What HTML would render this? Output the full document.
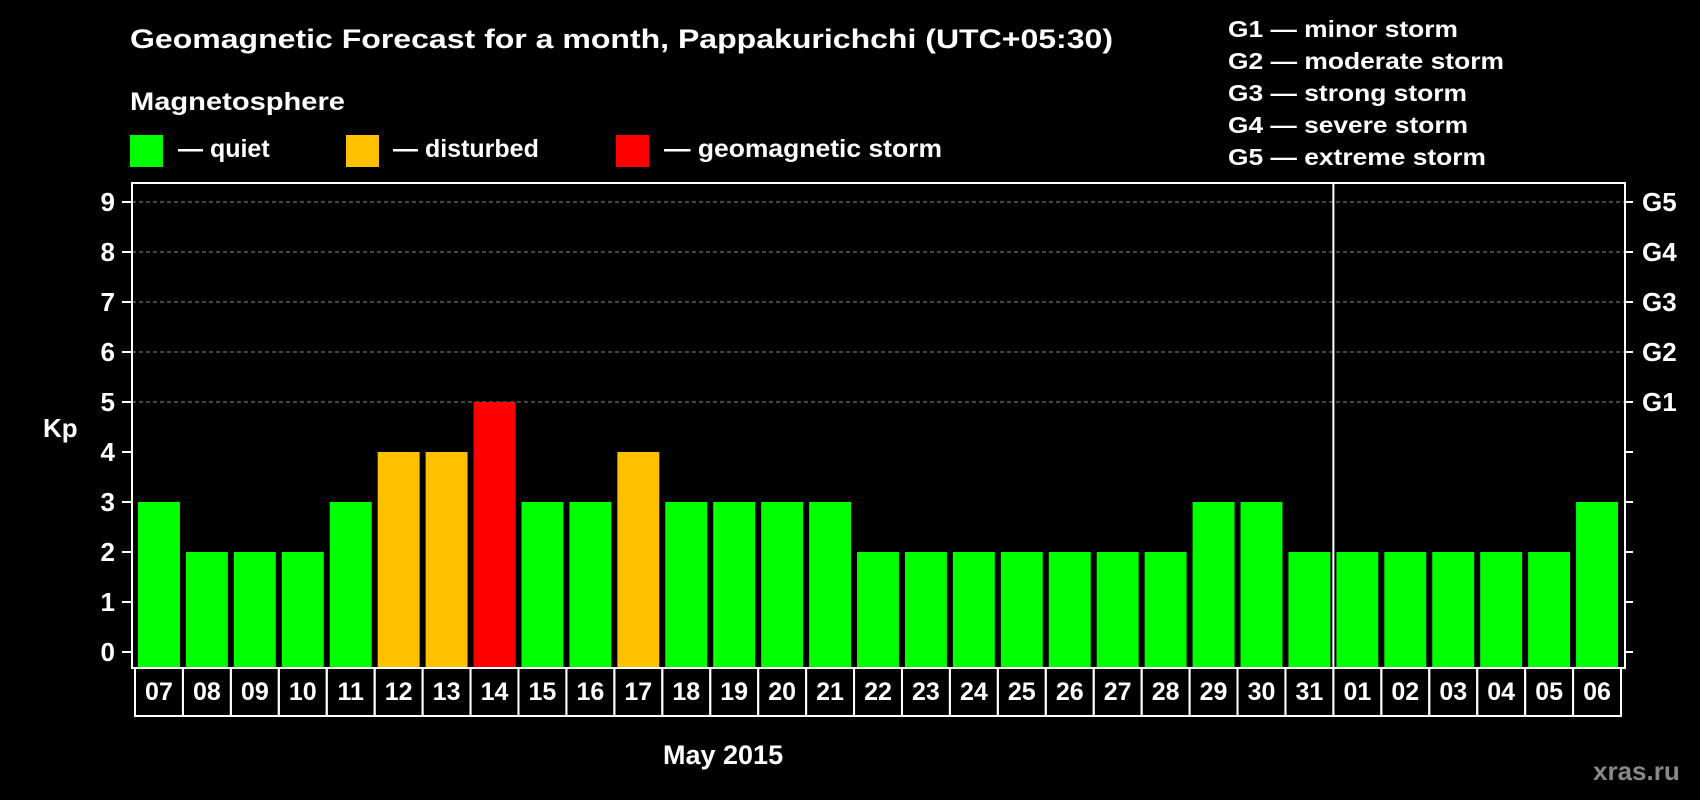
<!DOCTYPE html>
<html><head><meta charset="utf-8"><style>
html,body{margin:0;padding:0;background:#000;width:1700px;height:800px;overflow:hidden}
svg{display:block;font-family:"Liberation Sans",Arial,sans-serif;font-weight:bold}
</style></head><body>
<svg id="chart" width="1700" height="800" viewBox="0 0 1700 800">
<rect width="1700" height="800" fill="#000"/>
<text x="130" y="48" font-size="27" fill="#fff" textLength="983" lengthAdjust="spacingAndGlyphs">Geomagnetic Forecast for a month, Pappakurichchi (UTC+05:30)</text>
<text x="130" y="110" font-size="25" fill="#fff" textLength="215" lengthAdjust="spacingAndGlyphs">Magnetosphere</text>
<g>
<rect x="130" y="135" width="33" height="32" fill="#00ff00"/>
<text x="178" y="157" font-size="25" fill="#fff">— quiet</text></g>
<g>
<rect x="346" y="135" width="33" height="32" fill="#ffc000"/>
<text x="393" y="157" font-size="25" fill="#fff">— disturbed</text></g>
<g>
<rect x="616" y="135" width="33" height="32" fill="#ff0000"/>
<text x="664" y="157" font-size="25" fill="#fff" textLength="278" lengthAdjust="spacingAndGlyphs">— geomagnetic storm</text></g>
<g font-size="23" fill="#fff">
<text x="1228" y="37" textLength="230" lengthAdjust="spacingAndGlyphs">G1 — minor storm</text>
<text x="1228" y="69" textLength="276" lengthAdjust="spacingAndGlyphs">G2 — moderate storm</text>
<text x="1228" y="101" textLength="239" lengthAdjust="spacingAndGlyphs">G3 — strong storm</text>
<text x="1228" y="133" textLength="240" lengthAdjust="spacingAndGlyphs">G4 — severe storm</text>
<text x="1228" y="165" textLength="258" lengthAdjust="spacingAndGlyphs">G5 — extreme storm</text>
</g>
<g id="grid"></g>
<g id="bars"></g>
<g id="axes"></g>
<text x="43" y="437" font-size="26" fill="#fff">Kp</text>
<text x="663" y="764" font-size="27" fill="#fff">May 2015</text>
<text x="1593" y="780" font-size="26" fill="#888">xras.ru</text>
</svg>
<script>
const days = ["07","08","09","10","11","12","13","14","15","16","17","18","19","20","21","22","23","24","25","26","27","28","29","30","31","01","02","03","04","05","06"];
const kpValues = [3,2,2,2,3,4,4,5,3,3,4,3,3,3,3,2,2,2,2,2,2,2,3,3,2,2,2,2,2,2,3];
const yTicks = [0,1,2,3,4,5,6,7,8,9];
const gLabels = ["G1","G2","G3","G4","G5"];
const gLevels = [5,6,7,8,9];
const monthBreakIndex = 25;

const NS = "http://www.w3.org/2000/svg";
const L = 132, R = 1625, T = 183, B = 668;
const pitch = (R - L - 7) / days.length;
function y(v){ return 652 - v * 50; }
function x(i){ return 138 + i * pitch; }
function mk(tag, attrs, parent){ const e = document.createElementNS(NS, tag); for (const k in attrs) e.setAttribute(k, attrs[k]); parent.appendChild(e); return e; }
const grid = document.getElementById('grid'), bars = document.getElementById('bars'), axes = document.getElementById('axes');

yTicks.forEach(v => {
  if (v >= 5) {
    const g = mk('line', {x1:L, x2:R, y1:y(v), y2:y(v), stroke:'#888', 'stroke-width':1, 'stroke-dasharray':'4,3'}, grid);
    
    
  }
  const t = mk('line', {x1:122, x2:L, y1:y(v), y2:y(v), stroke:'#fff', 'stroke-width':2}, axes);
  
  
  const rt = mk('line', {x1:R, x2:1633, y1:y(v), y2:y(v), stroke:'#fff', 'stroke-width':2}, axes);
  
  
  const lb = mk('text', {x:115, y:y(v)+9, 'text-anchor':'end', 'font-size':26, fill:'#fff'}, axes);
  lb.textContent = v;
  
  
});
gLabels.forEach((g, i) => {
  const lb = mk('text', {x:1642, y:y(gLevels[i])+9, 'font-size':26, fill:'#fff'}, axes);
  lb.textContent = g;
  
  
});

kpValues.forEach((v, i) => {
  const col = v >= 5 ? '#ff0000' : (v >= 4 ? '#ffc000' : '#00ff00');
  const r = mk('rect', {x:x(i), y:y(v), width:pitch-6, height:B-1-y(v), fill:col}, bars);
  
  
});

const frame = mk('rect', {x:L, y:T, width:R-L, height:B-T, fill:'none', stroke:'#fff', 'stroke-width':2}, axes);


const div = mk('line', {x1:x(monthBreakIndex)-3, x2:x(monthBreakIndex)-3, y1:T, y2:B, stroke:'#fff', 'stroke-width':2}, axes);



days.forEach((d, i) => {
  const cx = x(i) - 3;
  const c = mk('rect', {x:cx, y:B, width:pitch, height:48, fill:'none', stroke:'#fff', 'stroke-width':2}, axes);
  
  
  const t = mk('text', {x:cx + pitch/2, y:700, 'text-anchor':'middle', 'font-size':25, fill:'#fff'}, axes);
  t.textContent = d;
  
  
});
</script>
</body></html>
